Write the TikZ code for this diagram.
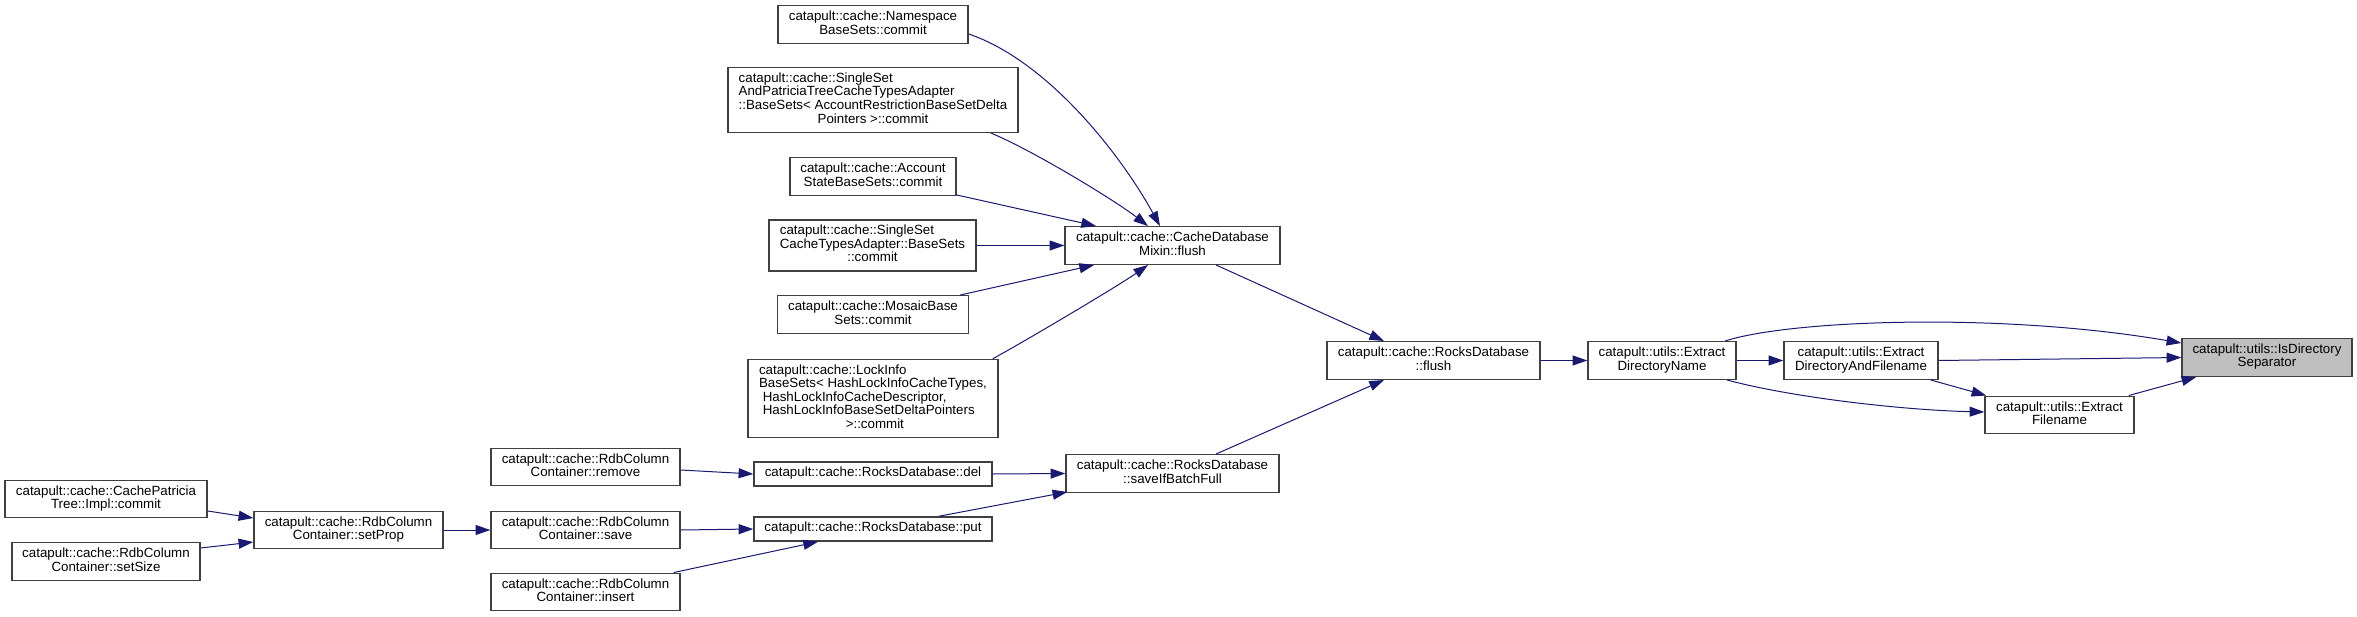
\documentclass[tikz,border=0pt]{standalone}
\usepackage{fontspec}
\setmainfont{Liberation Sans}
\usepackage{tikz}
\usetikzlibrary{arrows.meta,calc}
\definecolor{edgeblue}{HTML}{191970}
\definecolor{grey25}{HTML}{404040}
\definecolor{grey75}{HTML}{BFBFBF}
\newcommand{\fnc}[1]{\begin{tabular}{@{}c@{}}#1\end{tabular}}
\newcommand{\fnl}[2]{\begin{tabular}{@{}l@{}}#1\\\multicolumn{1}{@{}c@{}}{#2}\end{tabular}}

\begin{document}
\begin{tikzpicture}[x=0.75pt,y=-0.75pt,
 fn/.style={draw=grey25,line width=1.1pt,fill=white,inner sep=0pt,font=\fontsize{10}{10}\selectfont,minimum width=#1*0.75pt},
 nl/.style={minimum height=(#1*13.5+10.5)*0.75pt},
 a/.style={-{Triangle[length=11pt,width=7.5pt]},draw=edgeblue,line width=0.75pt}]
\useasboundingbox (0,0) rectangle (2357,617);
% callers of CacheDatabaseMixin::flush
\node[fn=190,nl=2] (ns) at (873,24.5) {\fnc{catapult::cache::Namespace\\BaseSets::commit}};
\node[fn=290,nl=4] (sspt) at (873,100) {\fnl{catapult::cache::SingleSet\\AndPatriciaTreeCacheTypesAdapter\\::BaseSets< AccountRestrictionBaseSetDelta}{Pointers >::commit}};
\node[fn=166,nl=2] (acct) at (873,176.5) {\fnc{catapult::cache::Account\\StateBaseSets::commit}};
\node[fn=207,nl=3] (ssct) at (872.5,245.5) {\fnl{catapult::cache::SingleSet\\CacheTypesAdapter::BaseSets}{::commit}};
\node[fn=191,nl=2] (mosaic) at (873,314.5) {\fnc{catapult::cache::MosaicBase\\Sets::commit}};
\node[fn=250,nl=5] (lock) at (873,398.5) {\fnl{catapult::cache::LockInfo\\BaseSets< HashLockInfoCacheTypes,\\\ HashLockInfoCacheDescriptor,\\\ HashLockInfoBaseSetDeltaPointers}{\ >::commit}};
\node[fn=215,nl=2] (mixin) at (1172.5,245.5) {\fnc{catapult::cache::CacheDatabase\\Mixin::flush}};
% rocks database
\node[fn=213,nl=2] (rflush) at (1433.5,360.5) {\fnc{catapult::cache::RocksDatabase\\::flush}};
\node[fn=213,nl=2] (batch) at (1172.5,473.5) {\fnc{catapult::cache::RocksDatabase\\::saveIfBatchFull}};
\node[fn=238,nl=1] (del) at (873,474) {\fnc{catapult::cache::RocksDatabase::del}};
\node[fn=238,nl=1] (put) at (873,529) {\fnc{catapult::cache::RocksDatabase::put}};
% rdb column container
\node[fn=189,nl=2] (remove) at (585.5,467) {\fnc{catapult::cache::RdbColumn\\Container::remove}};
\node[fn=189,nl=2] (save) at (585.5,530) {\fnc{catapult::cache::RdbColumn\\Container::save}};
\node[fn=189,nl=2] (insert) at (585.5,592) {\fnc{catapult::cache::RdbColumn\\Container::insert}};
\node[fn=189,nl=2] (setprop) at (348.5,530) {\fnc{catapult::cache::RdbColumn\\Container::setProp}};
\node[fn=202,nl=2] (cpt) at (106,499) {\fnc{catapult::cache::CachePatricia\\Tree::Impl::commit}};
\node[fn=188,nl=2] (setsize) at (106,561.5) {\fnc{catapult::cache::RdbColumn\\Container::setSize}};
% utils
\node[fn=148,nl=2] (edn) at (1662,360.5) {\fnc{catapult::utils::Extract\\DirectoryName}};
\node[fn=154,nl=2] (edaf) at (1861,360.5) {\fnc{catapult::utils::Extract\\DirectoryAndFilename}};
\node[fn=149,nl=2] (ef) at (2059.5,415) {\fnc{catapult::utils::Extract\\Filename}};
\node[fn=170,nl=2,fill=grey75] (sep) at (2267,357.5) {\fnc{catapult::utils::IsDirectory\\Separator}};
% edges
\draw[a] ($(ns.east)+(0,9.5)$) .. controls (1048,61) and (1121,155) .. ($(mixin.north)+(-12.5,0)$);
\draw[a] ($(sspt.south east)+(-28,0)$) .. controls (1030,149) and (1113,199) .. ($(mixin.north)+(-24.5,0)$);
\draw[a] ($(acct.south east)+(0,-1)$) -- ($(mixin.north)+(-76.5,0)$);
\draw[a] (ssct.east) -- (mixin.west);
\draw[a] ($(mosaic.north east)+(-9,0)$) -- ($(mixin.south)+(-78.5,0)$);
\draw[a] ($(lock.north east)+(-6,0)$) .. controls (1027,340) and (1118,286) .. ($(mixin.south)+(-24.5,0)$);
\draw[a] ($(mixin.south)+(43.5,0)$) -- ($(rflush.north)+(-49.5,0)$);
\draw[a] ($(batch.north)+(43.5,0)$) -- ($(rflush.south)+(-49.5,0)$);
\draw[a] (rflush.east) -- (edn.west);
\draw[a] ($(edn.north)+(63,0)$) .. controls (1790,320) and (2000,312) .. ($(sep.west)+(0,-14.5)$);
\draw[a] (edn.east) -- (edaf.west);
\draw[a] ($(edn.south)+(65,0)$) .. controls (1790,397) and (1900,410) .. ($(ef.west)+(0,-3)$);
\draw[a] (edaf.east) -- (sep.west);
\draw[a] ($(edaf.south east)+(-8,0)$) -- ($(ef.north west)+(2,0)$);
\draw[a] ($(ef.north east)+(-6,0)$) -- ($(sep.south west)+(15,0)$);
\draw[a] (del.east) -- (batch.west);
\draw[a] ($(put.north east)+(-54,0)$) -- ($(batch.south west)+(2,-1)$);
\draw[a] ($(remove.east)+(0,3)$) -- (del.west);
\draw[a] (save.east) -- (put.west);
\draw[a] ($(insert.north east)+(-7,0)$) -- ($(put.south)+(-55,0)$);
\draw[a] (setprop.east) -- (save.west);
\draw[a] ($(cpt.east)+(0,12)$) -- ($(setprop.west)+(0,-12)$);
\draw[a] ($(setsize.east)+(0,-13.5)$) -- ($(setprop.west)+(0,12)$);
\end{tikzpicture}
\end{document}
